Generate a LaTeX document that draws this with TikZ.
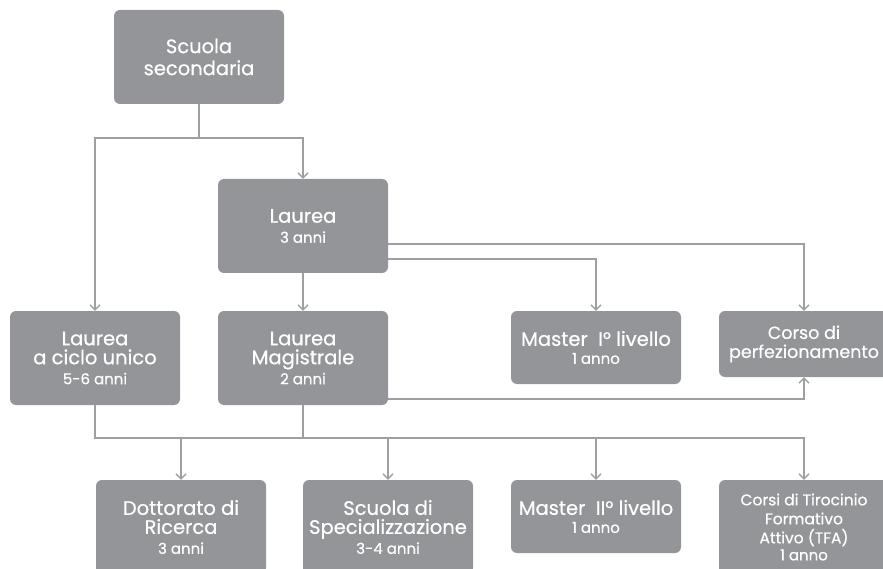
\documentclass[tikz,border=0pt]{standalone}
\usepackage{fontspec}
\setmainfont{Poppins}[FakeBold=0.6]
\usetikzlibrary{arrows.meta,calc}
\definecolor{boxgray}{HTML}{939598}
\definecolor{linegray}{HTML}{9D9FA2}
\tikzset{
  box/.style={fill=boxgray, rounded corners=6pt, text=white, align=center,
    minimum width=170pt, inner sep=0pt, font=\fontsize{19.5}{22}\selectfont},
  tall/.style={box, minimum height=94pt},
  short/.style={box, minimum height=73pt},
  conn/.style={draw=linegray, line width=1.3pt},
  arr/.style={conn, -{Straight Barb[length=5pt,width=10pt]}}
}
\newcommand{\subt}[1]{{\fontsize{15}{17}\selectfont #1}}
\begin{document}
\begin{tikzpicture}[x=1pt,y=-1pt]
\useasboundingbox (0,0) rectangle (883,569);
\clip (0,0) rectangle (883,569);
\node[tall] (scuola) at (199,57) {Scuola\\secondaria};
\node[tall] (laurea) at (303,226) {Laurea\\[-2pt]\subt{3 anni}};
\node[tall] (ciclo) at (95,358) {Laurea\\[-3pt]a ciclo unico\\[-2pt]\subt{5-6 anni}};
\node[tall] (mag) at (303,358) {Laurea\\[-3pt]Magistrale\\[-2pt]\subt{2 anni}};
\node[short] (m1) at (596,347.5) {Master\ \ I° livello\\[-4pt]\subt{1 anno}};
\node[box, minimum height=66pt, font=\fontsize{17.5}{21}\selectfont] (corso) at (804,344) {Corso di\\[-2pt]perfezionamento};
\node[tall] (dott) at (181,527) {Dottorato di\\[-3pt]Ricerca\\[-2pt]\subt{3 anni}};
\node[tall] (spec) at (388,527) {Scuola di\\[-3pt]Specializzazione\\[-2pt]\subt{3-4 anni}};
\node[short] (m2) at (596,516.5) {Master\ \ II° livello\\[-4pt]\subt{1 anno}};
\node[tall, font=\fontsize{15.5}{19}\selectfont] (tfa) at (804,527) {Corsi di Tirocinio\\Formativo\\Attivo (TFA)\\[-2pt]\subt{1 anno}};
\coordinate (b1) at (0,138);
\coordinate (b2) at (0,438);
% top
\draw[arr] (scuola.south) -- (scuola.south |- b1) -| (ciclo.north);
\draw[arr] (scuola.south |- b1) -| (laurea.north);
\draw[arr] (laurea.south) -- (mag.north);
\draw[arr] ($(laurea.east)+(0,18)$) -| (corso.north);
\draw[arr] ($(laurea.east)+(0,33)$) -| (m1.north);
\draw[arr] ($(mag.east)+(0,41)$) -| (corso.south);
% bottom bus
\draw[arr] (ciclo.south) |- (tfa.north |- b2) -- (tfa.north);
\draw[conn] (mag.south) -- (mag.south |- b2);
\draw[arr] (dott.north |- b2) -- (dott.north);
\draw[arr] (spec.north |- b2) -- (spec.north);
\draw[arr] (m2.north |- b2) -- (m2.north);
\end{tikzpicture}
\end{document}
